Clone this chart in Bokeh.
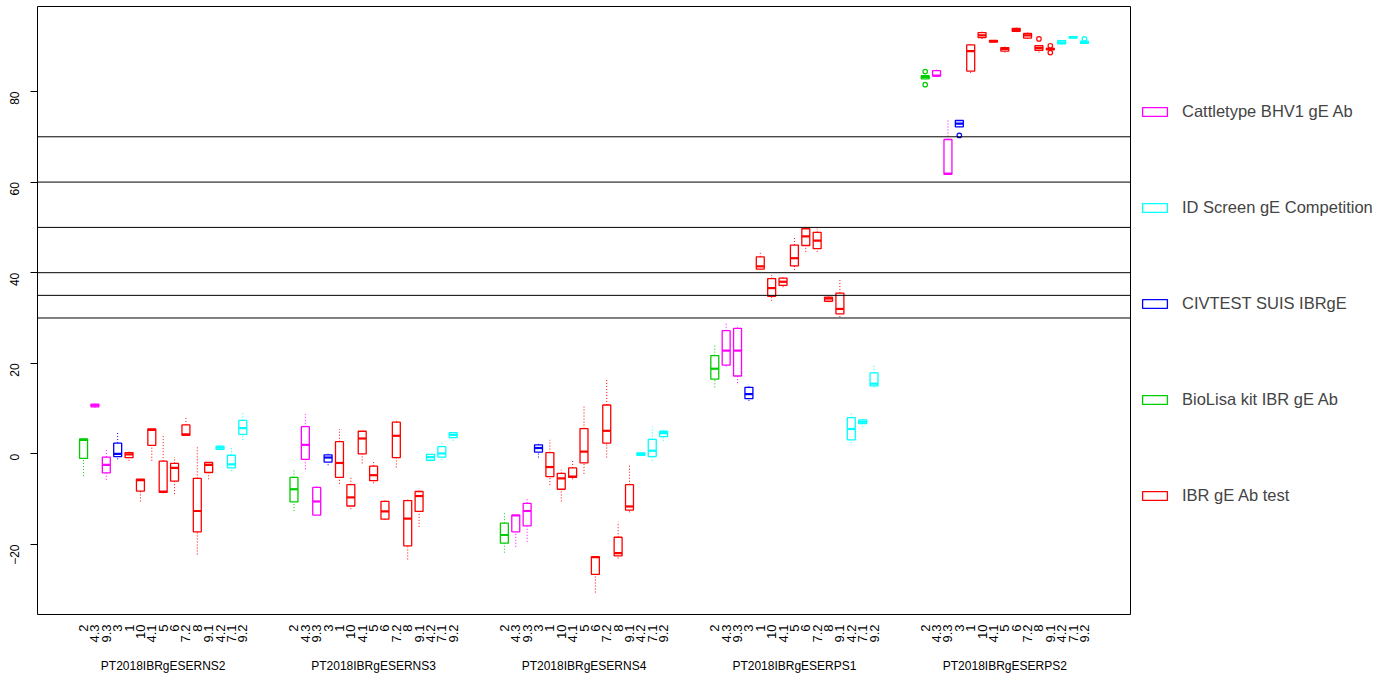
import math
from bokeh.plotting import figure
from bokeh.models import (ColumnDataSource, FixedTicker, LinearAxis, Span, Range1d,
                          Legend, LegendItem)
from bokeh.embed import file_html
from bokeh.resources import INLINE

# ---------------- data ----------------
groups = ["PT2018IBRgESERNS2", "PT2018IBRgESERNS3", "PT2018IBRgESERNS4",
          "PT2018IBRgESERPS1", "PT2018IBRgESERPS2"]
categories = ["2", "4.3", "9.3", "3", "1", "10", "4.1", "5", "6", "7.2", "8", "9.1",
              "4.2", "7.1", "9.2"]
cat_test = ["BioLisa kit IBR gE Ab", "Cattletype BHV1 gE Ab", "Cattletype BHV1 gE Ab",
            "CIVTEST SUIS IBRgE"] + ["IBR gE Ab test"] * 8 + ["ID Screen gE Competition"] * 3
tests = ["Cattletype BHV1 gE Ab", "ID Screen gE Competition", "CIVTEST SUIS IBRgE",
         "BioLisa kit IBR gE Ab", "IBR gE Ab test"]
test_colors = {"Cattletype BHV1 gE Ab": "#FF00FF", "ID Screen gE Competition": "#00FFFF",
               "CIVTEST SUIS IBRgE": "#0000FF", "BioLisa kit IBR gE Ab": "#00CD00",
               "IBR gE Ab test": "#FF0000"}
cutoff_lines = [30, 35, 40, 50, 60, 70]
y_ticks = [-20, 0, 20, 40, 60, 80]

# per group (NS2, NS3, NS4, PS1, PS2), categories in the order above
whisker_low = [
    -4.9, 10.2, -5.7, -1.2, -1.5, -10.5, -1.5, -8.7, -8.9, 4.1, -22.2, -5.6, 0.8, -3.8, 3.1,
    -12.6, -3.4, -13.5, -2.5, -6.6, -12.2, -2.1, -6.5, -14.6, -3.0, -23.3, -16.1, -1.6, -1.3, 2.9,
    -21.8, -20.5, -19.4, -0.8, -6.9, -10.5, -5.6, -4.4, -30.6, -0.8, -23.1, -12.9, -0.4, -1.5, 2.9,
    14.7, 19.3, 15.6, 11.7, 40.7, 33.8, 36.8, 40.6, 44.6, 44.6, 33.5, 30.2, 2.4, 6.0, 14.7,
    82.8, 83.4, 61.7, 72.2, 84.1, 91.6, 90.9, 88.6, 93.1, 91.6, 88.6, 89.2, 90.4, 91.8, 90.6,
]
quartile_1 = [
    -1.0, 10.4, -4.2, -0.6, -0.8, -8.2, 1.9, -8.5, -6.0, 4.1, -17.2, -4.1, 1.0, -3.1, 4.3,
    -10.6, -1.2, -13.5, -1.8, -5.2, -11.5, 0.0, -5.9, -14.4, -0.8, -20.3, -12.7, -1.4, -0.7, 3.6,
    -19.7, -17.2, -15.9, 0.4, -5.0, -7.8, -5.2, -2.0, -26.6, 2.4, -22.5, -12.4, -0.3, -0.6, 3.8,
    16.5, 19.6, 17.2, 12.2, 40.8, 34.8, 37.2, 41.5, 46.0, 45.3, 33.7, 30.9, 3.1, 6.7, 15.0,
    82.8, 83.4, 61.7, 72.2, 84.5, 91.9, 90.9, 88.9, 93.3, 91.8, 89.1, 89.2, 90.5, 91.8, 90.6,
]
median = [
    3.1, 10.7, -2.4, 0.0, -0.1, -5.8, 5.3, -8.3, -3.1, 4.3, -12.6, -2.4, 1.4, -2.3, 5.7,
    -7.8, 2.0, -10.5, -0.8, -2.0, -9.6, 3.4, -4.7, -12.7, 4.0, -14.3, -9.3, -0.7, 0.1, 4.2,
    -17.9, -13.6, -12.6, 1.3, -2.9, -5.4, -5.0, 0.5, -22.8, 5.1, -21.9, -11.6, 0.0, 0.7, 4.6,
    18.8, 22.8, 22.8, 13.2, 41.4, 36.6, 38.0, 43.2, 48.0, 47.1, 34.3, 32.0, 5.5, 7.1, 15.5,
    83.2, 83.5, 61.9, 72.9, 88.9, 92.4, 91.1, 89.4, 93.6, 92.4, 89.6, 89.4, 90.8, 92.0, 90.8,
]
quartile_3 = [
    3.3, 11.0, -0.7, 2.4, 0.3, -5.6, 5.5, -1.6, -2.1, 6.4, -5.4, -1.9, 1.7, -0.3, 7.4,
    -5.2, 6.0, -7.4, -0.2, 2.7, -6.8, 5.0, -2.7, -10.5, 7.0, -10.3, -8.3, -0.1, 1.6, 4.7,
    -15.3, -13.5, -10.9, 2.0, 0.3, -4.3, -3.1, 5.6, -22.7, 10.8, -18.4, -6.8, 0.2, 3.2, 5.0,
    21.7, 27.2, 27.7, 14.7, 43.5, 38.7, 38.8, 46.1, 49.7, 48.9, 34.6, 35.5, 8.0, 7.5, 17.9,
    83.5, 84.6, 69.4, 73.6, 90.3, 93.0, 91.3, 89.7, 93.9, 92.8, 90.1, 89.5, 91.2, 92.1, 91.1,
]
whisker_high = [
    3.3, 11.1, 1.0, 4.8, 0.5, -5.6, 5.5, 4.4, -0.7, 8.2, 1.8, -1.9, 1.9, 1.5, 9.0,
    -3.4, 8.8, -7.1, 0.4, 5.5, -5.0, 5.0, -1.5, -9.9, 7.7, -9.7, -7.6, -0.1, 2.9, 4.8,
    -13.1, -13.5, -9.7, 2.2, 3.1, -3.5, -1.2, 10.7, -22.7, 16.4, -15.0, -2.4, 0.2, 6.0, 5.3,
    23.9, 28.9, 28.4, 15.4, 44.7, 39.5, 39.0, 47.9, 50.4, 49.7, 34.7, 38.8, 9.0, 7.7, 19.7,
    83.5, 84.9, 73.8, 73.6, 90.4, 93.2, 91.3, 89.9, 94.1, 93.0, 90.1, 89.5, 91.2, 92.3, 91.1,
]
outlier_group = [4, 4, 4, 4, 4, 4, 4]
outlier_cat = [0, 0, 3, 10, 11, 11, 14]
outlier_value = [84.4, 81.5, 70.3, 91.6, 90.1, 88.6, 91.6]

# ---------------- layout helpers ----------------
GROUP_STEP = 18.5
HALF = 0.35
n_cat = len(categories)

def pos(g, i):
    return g * GROUP_STEP + i

FONT = "Liberation Sans"

p = figure(frame_width=1093, frame_height=608, output_backend="svg",
           toolbar_location=None, x_axis_type=None, y_axis_type=None,
           x_range=Range1d(-4.05, 92.05), y_range=Range1d(-35.45, 98.76),
           min_border_left=37, min_border_right=250, min_border_top=6,
           min_border_bottom=10)
p.xgrid.visible = False
p.ygrid.visible = False
p.outline_line_color = "black"
p.outline_line_width = 1
p.background_fill_color = "white"
p.border_fill_color = "white"

for v in cutoff_lines:
    p.add_layout(Span(location=v, dimension="width", line_color="black", line_width=1))

legend_renderers = {}
for t in tests:
    col = test_colors[t]
    d = dict(x=[], left=[], right=[], lo=[], q1=[], med=[], q3=[], hi=[])
    for g in range(len(groups)):
        for i in range(n_cat):
            if cat_test[i] != t:
                continue
            k = g * n_cat + i
            x = pos(g, i)
            d["x"].append(x)
            d["left"].append(x - HALF)
            d["right"].append(x + HALF)
            d["lo"].append(whisker_low[k])
            d["q1"].append(quartile_1[k])
            d["med"].append(median[k])
            d["q3"].append(quartile_3[k])
            d["hi"].append(whisker_high[k])
    src = ColumnDataSource(d)
    p.segment(x0="x", y0="q3", x1="x", y1="hi", source=src, line_color=col,
              line_width=1, line_dash="1 2")
    p.segment(x0="x", y0="lo", x1="x", y1="q1", source=src, line_color=col,
              line_width=1, line_dash="1 2")
    r = p.quad(left="left", right="right", bottom="q1", top="q3", source=src,
               fill_color="white", fill_alpha=0, line_color=col, line_width=1.3)
    p.segment(x0="left", y0="med", x1="right", y1="med", source=src, line_color=col,
              line_width=2.2)
    legend_renderers[t] = r

ox = [pos(g, i) for g, i in zip(outlier_group, outlier_cat)]
ocol = [test_colors[cat_test[i]] for i in outlier_cat]
p.scatter(x=ox, y=outlier_value, marker="circle", size=4.5, fill_color=None,
          line_color=ocol, line_width=1.2)

# y axis
yax = LinearAxis(ticker=FixedTicker(ticks=y_ticks), major_label_orientation=math.pi / 2,
                 axis_line_color=None, major_tick_out=7, major_tick_in=0,
                 minor_tick_line_color=None, major_label_standoff=16,
                 major_label_text_font=FONT, major_label_text_font_size="12px",
                 major_label_text_color="black", major_tick_line_color="black")
p.add_layout(yax, "left")

# x axis with category labels
ticks = [pos(g, i) for g in range(len(groups)) for i in range(n_cat)]
overrides = {pos(g, i): categories[i] for g in range(len(groups)) for i in range(n_cat)}
xax = LinearAxis(ticker=FixedTicker(ticks=ticks), major_label_overrides=overrides,
                 major_label_orientation=math.pi / 2, axis_line_color=None,
                 major_tick_line_color=None, minor_tick_line_color=None,
                 major_label_standoff=4, major_label_text_font=FONT,
                 major_label_text_font_size="13px", major_label_text_color="black")
p.add_layout(xax, "below")

centers = [pos(g, (n_cat - 1) / 2) for g in range(len(groups))]
gax = LinearAxis(ticker=FixedTicker(ticks=centers),
                 major_label_overrides={c: gname for c, gname in zip(centers, groups)},
                 axis_line_color=None, major_tick_line_color=None,
                 minor_tick_line_color=None, major_label_standoff=7,
                 major_label_text_font=FONT, major_label_text_font_size="12px",
                 major_label_text_color="black")
p.add_layout(gax, "below")

legend = Legend(items=[LegendItem(label=t, renderers=[legend_renderers[t]]) for t in tests],
                location=(9, 109), glyph_width=31, glyph_height=11, label_standoff=12,
                spacing=77, padding=0, margin=0, border_line_color=None,
                background_fill_alpha=0, label_text_font=FONT,
                label_text_font_size="16.5px", label_height=16)
p.add_layout(legend, "right")

open("out.html", "w").write(file_html(p, INLINE))
